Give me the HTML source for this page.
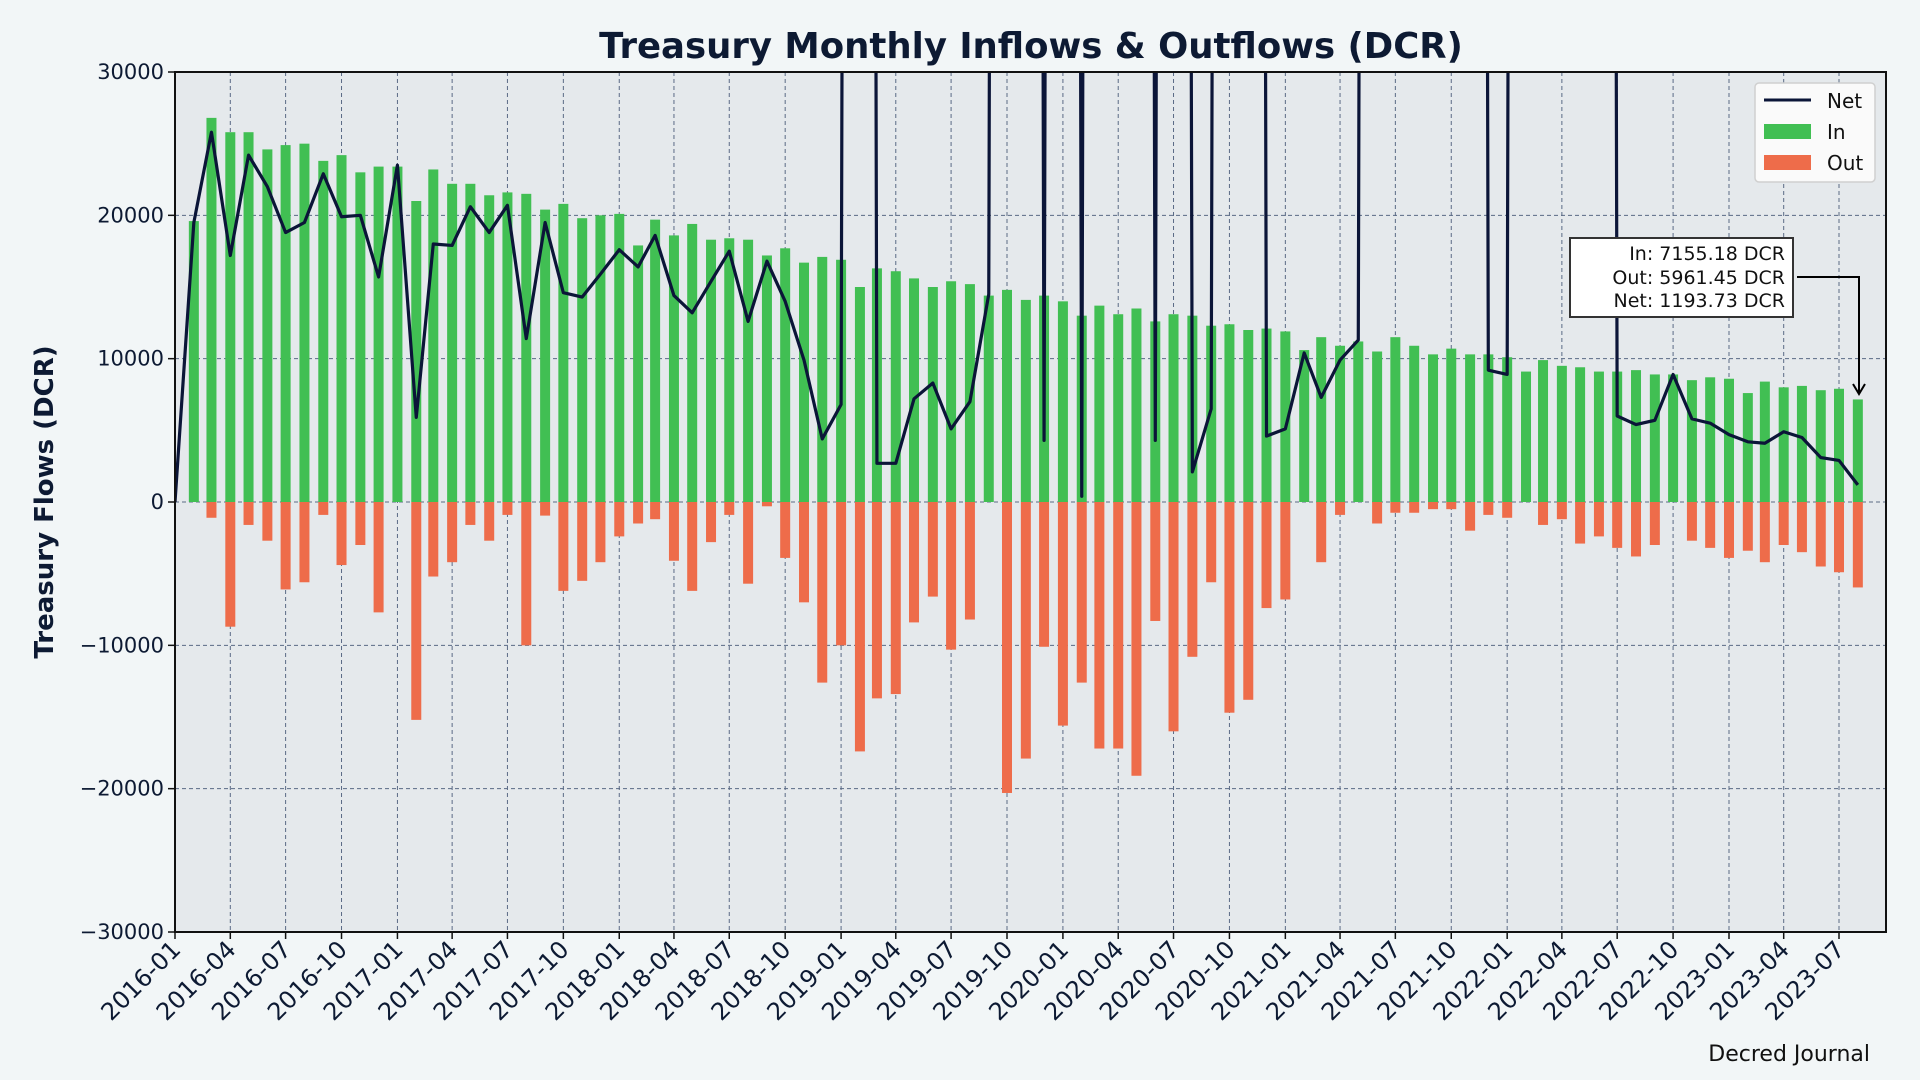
<!DOCTYPE html>
<html><head><meta charset="utf-8"><style>
html,body{margin:0;padding:0;background:#f2f6f7;}
svg{display:block;font-family:"DejaVu Sans","Liberation Sans",sans-serif;}
</style></head><body>
<svg id="chart" width="1920" height="1080" viewBox="0 0 1920 1080">
<defs><clipPath id="plotclip"><rect x="175" y="72" width="1711" height="860"/></clipPath>
<marker id="arrowhead" markerWidth="14" markerHeight="14" refX="12" refY="7" orient="auto" markerUnits="userSpaceOnUse"><path d="M2,1 L12,7 L2,13" fill="none" stroke="#000" stroke-width="2"/></marker></defs>
<rect x="0" y="0" width="1920" height="1080" fill="#f2f6f7"/>
<rect x="175" y="72" width="1711" height="860" fill="#e5e9ec"/>
<g id="grid"></g>
<g id="bars" clip-path="url(#plotclip)"></g>
<g id="line" clip-path="url(#plotclip)"></g>
<rect x="175" y="72" width="1711" height="860" fill="none" stroke="#111" stroke-width="2"/>
<g id="axes"></g>
<text x="1031" y="58" text-anchor="middle" font-size="35.5" font-weight="bold" fill="#0d1a33">Treasury Monthly Inflows &amp; Outflows (DCR)</text>
<text transform="translate(53,502) rotate(-90)" text-anchor="middle" font-size="26" font-weight="bold" fill="#0d1a33">Treasury Flows (DCR)</text>
<g>
<rect x="1755" y="83" width="120" height="99" rx="4" fill="#fafafa" stroke="#d0d0d0" stroke-width="1.5"/>
<line x1="1764" y1="100" x2="1811" y2="100" stroke="#0b1538" stroke-width="3"/>
<text x="1827" y="108" font-size="20" fill="#111">Net</text>
<rect x="1764" y="124" width="47" height="15" fill="#41bf53"/>
<text x="1827" y="139" font-size="20" fill="#111">In</text>
<rect x="1764" y="155" width="47" height="15" fill="#ee6c4a"/>
<text x="1827" y="170" font-size="20" fill="#111">Out</text>
</g>
<g>
<polyline points="1797,277 1859,277 1859,394" fill="none" stroke="#000" stroke-width="2" marker-end="url(#arrowhead)"/>
<rect x="1570" y="238" width="223" height="79" fill="#fff" stroke="#333" stroke-width="2"/>
<text x="1785" y="260" text-anchor="end" font-size="19" fill="#111">In: 7155.18 DCR</text>
<text x="1785" y="284" text-anchor="end" font-size="19" fill="#111">Out: 5961.45 DCR</text>
<text x="1785" y="307" text-anchor="end" font-size="19" fill="#111">Net: 1193.73 DCR</text>
</g>
<text x="1870" y="1061" text-anchor="end" font-size="22" fill="#111">Decred Journal</text>
</svg>
<script>
const HUGE = 500000;
const inflows = [0,19600,26800,25800,25800,24600,24900,25000,23800,24200,23000,23400,23400,21000,23200,22200,22200,21400,21600,21500,20400,20800,19800,20000,20100,17900,19700,18600,19400,18300,18400,18300,17200,17700,16700,17100,16900,15000,16300,16100,15600,15000,15400,15200,14400,14800,14100,14400,14000,13000,13700,13100,13500,12600,13100,13000,12300,12400,12000,12100,11900,10600,11500,10900,11200,10500,11500,10900,10300,10700,10300,10300,10100,9100,9900,9500,9400,9100,9100,9200,8900,8900,8500,8700,8600,7600,8400,8000,8100,7800,7900,7155.18];
const outflows = [0,0,-1100,-8700,-1600,-2700,-6100,-5600,-900,-4400,-3000,-7700,0,-15200,-5200,-4200,-1600,-2700,-900,-10000,-950,-6200,-5500,-4200,-2400,-1500,-1200,-4100,-6200,-2800,-900,-5700,-300,-3900,-7000,-12600,-10000,-17400,-13700,-13400,-8400,-6600,-10300,-8200,0,-20300,-17900,-10100,-15600,-12600,-17200,-17200,-19100,-8300,-16000,-10800,-5600,-14700,-13800,-7400,-6800,0,-4200,-900,0,-1500,-750,-750,-500,-500,-2000,-900,-1100,0,-1600,-1200,-2900,-2400,-3200,-3800,-3000,0,-2700,-3200,-3900,-3400,-4200,-3000,-3500,-4500,-4900,-5961.45];
const net = [0,19500,25800,17200,24200,22000,18800,19500,22900,19900,20000,15700,23500,5900,18000,17900,20600,18800,20700,11400,19500,14600,14300,15900,17600,16400,18600,14400,13200,15400,17500,12600,16800,14000,9900,4400,6800,HUGE,2700,2700,7200,8300,5100,7000,14500,HUGE,HUGE,4300,HUGE,400,HUGE,HUGE,HUGE,4300,HUGE,2100,6500,HUGE,HUGE,4600,5100,10400,7300,9900,11300,HUGE,HUGE,HUGE,HUGE,HUGE,HUGE,9200,8900,HUGE,HUGE,HUGE,HUGE,HUGE,6000,5400,5700,8900,5800,5500,4700,4200,4100,4900,4500,3100,2900,1193.73];
const yTicks = [30000,20000,10000,0,-10000,-20000,-30000];
const yTickLabels = ["30000","20000","10000","0","\u221210000","\u221220000","\u221230000"];
const xTickLabels = ["2016-01","2016-04","2016-07","2016-10","2017-01","2017-04","2017-07","2017-10","2018-01","2018-04","2018-07","2018-10","2019-01","2019-04","2019-07","2019-10","2020-01","2020-04","2020-07","2020-10","2021-01","2021-04","2021-07","2021-10","2022-01","2022-04","2022-07","2022-10","2023-01","2023-04","2023-07"];

const NS = "http://www.w3.org/2000/svg";
const L=175,R=1886,T=72,B=932;
const t0 = Date.UTC(2016,0,1);
const pxPerDay = (1839-175)/((Date.UTC(2023,6,1)-t0)/86400000);
function xDate(y,m){return L + (Date.UTC(y,m,1)-t0)/86400000*pxPerDay;}
function xMonth(i){return xDate(2016+Math.floor(i/12), i%12);}
function yv(v){return B - (v+30000)/60000*(B-T);}
function mk(tag,attrs,parent){const e=document.createElementNS(NS,tag);for(const k in attrs)e.setAttribute(k,attrs[k]);parent.appendChild(e);return e;}

const grid=document.getElementById('grid'), axes=document.getElementById('axes');
yTicks.forEach((v,i)=>{
  const y=yv(v);
  if(i>0&&i<yTicks.length-1){const g=mk('line',{x1:L,x2:R,y1:y,y2:y,stroke:'#5a6a85','stroke-width':1,'stroke-dasharray':'4,3'},grid);
  
  }
  const tk=mk('line',{x1:L-7,x2:L,y1:y,y2:y,stroke:'#111','stroke-width':1.5},axes);
  
  
  const tx=mk('text',{x:L-11,y:y+7,'text-anchor':'end','font-size':21,fill:'#0d1a33'},axes);
  tx.textContent=yTickLabels[i];
  
  
});
xTickLabels.forEach((lab)=>{
  const [yy,mm]=lab.split('-').map(Number);
  const x=xDate(yy,mm-1);
  if(x>L+1){const g=mk('line',{x1:x,x2:x,y1:T,y2:B,stroke:'#5a6a85','stroke-width':1,'stroke-dasharray':'4,3'},grid);
  
  }
  const tk=mk('line',{x1:x,x2:x,y1:B,y2:B+7,stroke:'#111','stroke-width':1.5},axes);
  
  
  const tx=mk('text',{transform:`translate(${x+7},${B+19}) rotate(-45)`,'text-anchor':'end','font-size':24,fill:'#0d1a33'},axes);
  tx.textContent=lab;
  
  
});
const bars=document.getElementById('bars'), bw=10;
inflows.forEach((v,i)=>{
  const x=xMonth(i);
  if(v>0){const r=mk('rect',{x:x-bw/2,y:yv(v),width:bw,height:yv(0)-yv(v),fill:'#41bf53'},bars);
  
  }
  const o=outflows[i];
  if(o<0){const r=mk('rect',{x:x-bw/2,y:yv(0),width:bw,height:yv(o)-yv(0),fill:'#ee6c4a'},bars);
  
  }
});
const pts=net.map((v,i)=>xMonth(i).toFixed(2)+','+yv(v).toFixed(2)).join(' ');
const pl=mk('polyline',{points:pts,fill:'none',stroke:'#0b1538','stroke-width':3.2,'stroke-linejoin':'round'},document.getElementById('line'));


</script>
</body></html>
